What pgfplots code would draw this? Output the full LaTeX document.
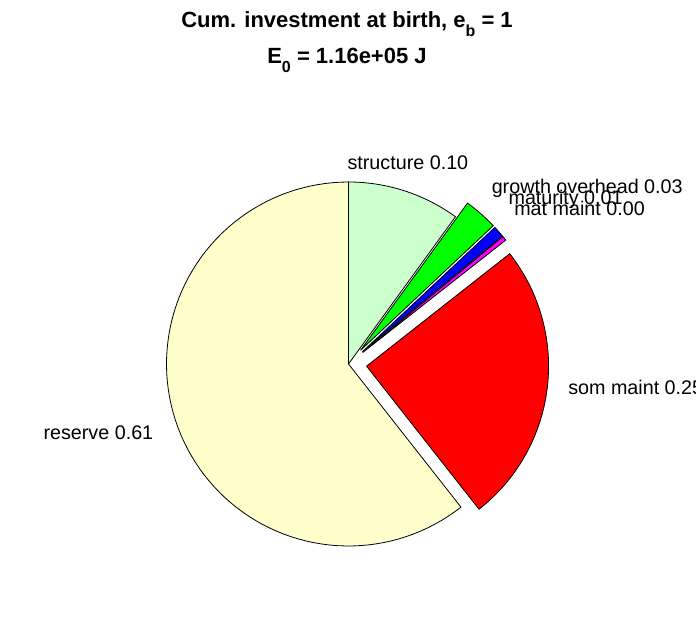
\documentclass[border=0pt]{standalone}
\usepackage{fontspec}
\setmainfont{Liberation Sans}
\usepackage{pgfplots}
\pgfplotsset{compat=1.18}
\usepackage{pgfplotstable}

\definecolor{cReserve}{rgb}{1,1,0.8}
\definecolor{cStruct}{rgb}{0.8,1,0.8}
\definecolor{cGrowth}{rgb}{0,1,0}
\definecolor{cMat}{rgb}{0,0,1}
\definecolor{cMatMaint}{rgb}{1,0,1}
\definecolor{cSom}{rgb}{1,0,0}

% fractions of cumulative investment (clockwise from the top)
\def\fStruct{0.100}
\def\fGrowth{0.030}
\def\fMat{0.010}
\def\fMatMaint{0.004}
\def\fSom{0.250}
\def\fReserve{0.606}

\def\cx{348.5}
\def\cy{254}
\def\R{182}

\newcommand{\pieslice}[4]{% start angle, end angle, explode (0/1), colour
  \pgfmathsetmacro\midang{(#1+#2)/2}%
  \pgfmathsetmacro\ox{\cx+#3*0.1*\R*cos(\midang)}%
  \pgfmathsetmacro\oy{\cy+#3*0.1*\R*sin(\midang)}%
  \edef\temp{\noexpand\addplot[draw=black, line width=0.6pt, fill=#4, domain=#2:#1, samples=90]
    ({\ox+\R*cos(x)},{\oy+\R*sin(x)}) -- (axis cs:\ox,\oy) -- cycle;}%
  \temp
}

\pgfmathsetmacro\aA{90}
\pgfmathsetmacro\aB{\aA-360*\fStruct}
\pgfmathsetmacro\aC{\aB-360*\fGrowth}
\pgfmathsetmacro\aD{\aC-360*\fMat}
\pgfmathsetmacro\aE{\aD-360*\fMatMaint}
\pgfmathsetmacro\aF{\aE-360*\fSom}
\pgfmathsetmacro\aG{\aF-360*\fReserve}

\tikzset{lbl/.style={inner sep=0pt, font=\fontsize{14.8}{18}\selectfont}}

\begin{document}
\begin{tikzpicture}
\useasboundingbox (0,0) rectangle (522pt,463.5pt);
\begin{axis}[
  at={(0,0)}, anchor=south west,
  width=522pt, height=463.5pt, scale only axis,
  xmin=0, xmax=696, ymin=0, ymax=618,
  axis lines=none, clip=false,
]
\pieslice{\aA}{\aB}{0}{cStruct}
\pieslice{\aB}{\aC}{1}{cGrowth}
\pieslice{\aC}{\aD}{1}{cMat}
\pieslice{\aD}{\aE}{1}{cMatMaint}
\pieslice{\aE}{\aF}{1}{cSom}
\pieslice{\aF}{\aG}{0}{cReserve}

\node[lbl, anchor=base west] at (axis cs:347.3,448.7) {structure 0.10};
\node[lbl, anchor=base west] at (axis cs:491.5,424.5) {growth overhead 0.03};
\node[lbl, anchor=base west] at (axis cs:508.3,413) {maturity 0.01};
\node[lbl, anchor=base west] at (axis cs:514,402) {mat maint 0.00};
\node[lbl, anchor=base west] at (axis cs:568,223) {som maint 0.25};
\node[lbl, anchor=base east] at (axis cs:153.5,178) {reserve 0.61};

\node[anchor=base, inner sep=0pt, font=\fontsize{16.5}{20}\bfseries] at (axis cs:347,590)
  {Cum. investment at birth, e\raisebox{-0.4em}{\fontsize{12}{12}\selectfont\bfseries b} = 1};
\node[anchor=base, inner sep=0pt, font=\fontsize{16.5}{20}\bfseries] at (axis cs:347,554)
  {E\raisebox{-0.4em}{\fontsize{12}{12}\selectfont\bfseries 0} = 1.16e+05 J};
\end{axis}
\end{tikzpicture}
\end{document}
